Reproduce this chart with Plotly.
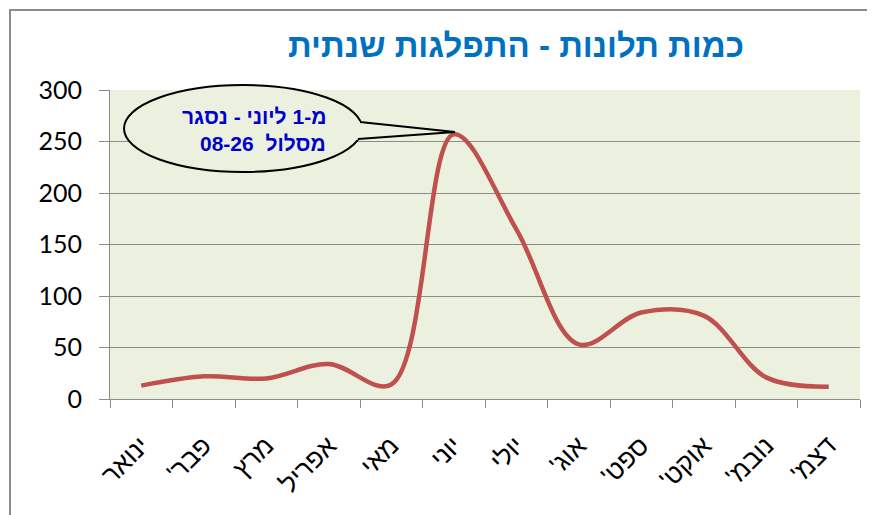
import plotly.graph_objects as go

RLM = "\u200f"
months = ["ינואר", "פבר'", "מרץ", "אפריל", "מאי", "יוני",
          "יולי", "אוג'", "ספט'", "אוקט'", "נובמ'", "דצמ'"]
complaints = [13, 22, 20, 34, 14, 257, 165, 53, 84, 81, 21, 12]
y_ticks = [0, 50, 100, 150, 200, 250, 300]

title_text = "כמות תלונות - התפלגות שנתית"
callout_lines = ["מ-1 ליוני - נסגר", "מסלול  08-26"]

labels = [m + RLM for m in months]

# page body has an 8px margin: work in screen pixels and shift
OFF = 8
W, H = 875 - OFF, 515 - OFF
L, R, T, B = 110 - OFF, 860 - OFF, 90 - OFF, 399 - OFF

def px(x):
    return (x - OFF - L) / (R - L)
def py(y):
    return (B - (y - OFF)) / (B - T)

fig = go.Figure()
fig.add_trace(go.Scatter(
    x=labels, y=complaints, mode="lines",
    line=dict(color="#C0504D", width=4.5, shape="spline", smoothing=1),
    hoverinfo="x+y", showlegend=False,
))

bg = "#EBF1DE"
shapes = [
    dict(type="rect", xref="paper", yref="paper",
         x0=px(10), x1=px(900), y0=py(540), y1=py(10),
         line=dict(color="#8C8C8C", width=2), fillcolor="rgba(0,0,0,0)", layer="below"),
    dict(type="circle", xref="paper", yref="paper",
         x0=px(124), x1=px(362), y0=py(172), y1=py(85),
         line=dict(color="black", width=2), fillcolor=bg),
    dict(type="path", xref="paper", yref="paper",
         path=f"M {px(355)},{py(121)} L {px(455)},{py(132)} L {px(352)},{py(140)} Z",
         line=dict(width=0), fillcolor=bg),
    dict(type="line", xref="paper", yref="paper",
         x0=px(360), y0=py(122), x1=px(455), y1=py(132),
         line=dict(color="black", width=2)),
    dict(type="line", xref="paper", yref="paper",
         x0=px(358), y0=py(139), x1=px(455), y1=py(132),
         line=dict(color="black", width=2)),
]

annotations = [
    dict(xref="paper", yref="paper", x=px(328), y=py(116), xanchor="right", yanchor="middle",
         text="<b>" + callout_lines[0] + "</b>", showarrow=False,
         font=dict(family="Liberation Sans, Arial", size=21, color="#0000CC")),
    dict(xref="paper", yref="paper", x=px(328), y=py(143), xanchor="right", yanchor="middle",
         text="<b>" + callout_lines[1] + "</b>", showarrow=False,
         font=dict(family="Liberation Sans, Arial", size=21, color="#0000CC")),
]

fig.update_layout(
    width=W, height=H,
    margin=dict(l=L, r=W - R, t=T, b=H - B, autoexpand=False),
    paper_bgcolor="white", plot_bgcolor=bg,
    title=dict(text="<b>" + title_text + "</b>", xref="paper", x=px(516), xanchor="center",
               yref="container", y=1 - (45 - OFF) / H, yanchor="middle",
               font=dict(family="Liberation Sans, Arial", size=33, color="#0070C0")),
    shapes=shapes, annotations=annotations,
    xaxis=dict(
        type="category", range=[-0.5, len(months) - 0.5],
        tickangle=-45, ticks="outside", ticklen=8, tickcolor="#8C8C8C",
        tickson="boundaries", showgrid=False, zeroline=False,
        showline=True, linecolor="#8C8C8C", linewidth=1,
        ticklabelstandoff=20,
        tickfont=dict(family="Liberation Sans, Arial", size=26, color="black"),
    ),
    yaxis=dict(
        range=[0, 300], tickvals=y_ticks, ticks="outside", ticklen=10,
        tickcolor="#8C8C8C", showgrid=True, gridcolor="#8C8C8C", gridwidth=1,
        zeroline=False, showline=True, linecolor="#8C8C8C", linewidth=1,
        ticklabelstandoff=12,
        tickfont=dict(family="Lato, Open Sans, sans-serif", size=25, color="black"),
    ),
)

fig.write_html("out.html")
